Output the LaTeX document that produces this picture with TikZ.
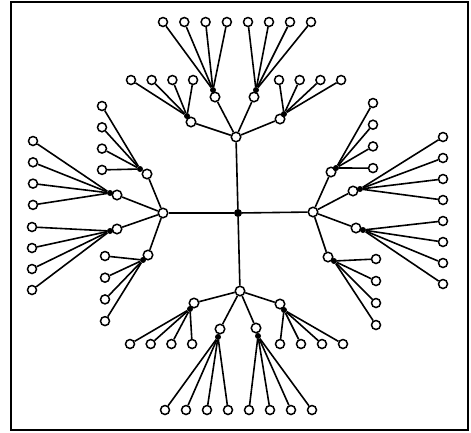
\documentclass[tikz,border=0pt]{standalone}
\usepackage{tikz}
\usetikzlibrary{positioning,calc}
\tikzset{
  leafnode/.style={circle, draw=black, fill=white, line width=1.5pt, inner sep=0pt, minimum size=9pt},
  hubnode/.style={leafnode, minimum size=9.5pt},
  joint/.style={circle, fill=black, inner sep=0pt, minimum size=6pt},
  branch/.style={line width=1.6pt},
}
\begin{document}
\begin{tikzpicture}[x=1pt, y=-1pt]
    \useasboundingbox (0,0) rectangle (471,432);
    \draw[line width=2.2pt] (11,2) rectangle (468,430);

    % centre and the four hubs
    \node[joint, minimum size=8pt] (c) at (238,213) {};
    \node[hubnode] (top) at (236,137) {};
    \node[hubnode] (left) at (163,213) {};
    \node[hubnode] (right) at (313,212) {};
    \node[hubnode] (bottom) at (240,291) {};
    \draw[branch] (c) -- (top);
    \draw[branch] (c) -- (left);
    \draw[branch] (c) -- (right);
    \draw[branch] (c) -- (bottom);

    % sub-hubs, their joints and four leaves each
    \foreach \sub/\hub/\sx/\sy/\jx/\jy/\lx/\ly/\dx/\dy in {
        T1/top/191/122/187/116/131/80/20.7/0,
        T2/top/215/97/213/90/163/22/21.3/0,
        T3/top/254/97/256/90/248/22/21/0,
        T4/top/280/119/284/114/279/80/20.7/0,
        L1/left/147/174/140/169/102/106/0/21.3,
        L2/left/117/195/110/193/33/141/0/21.3,
        L3/left/117/229/110/231/32/227/0/21,
        L4/left/148/255/143/260/105/256/0/21.7,
        R1/right/331/172/336/168/373/103/0/21.7,
        R2/right/353/191/360/189/443/137/0/21,
        R3/right/356/228/363/230/443/221/0/21,
        R4/right/328/257/334/261/376/259/0/22,
        B1/bottom/194/303/190/309/130/344/20.7/0,
        B2/bottom/220/329/218/337/165/410/21/0,
        B3/bottom/256/328/258/336/249/410/21/0,
        B4/bottom/280/304/284/310/280/344/21/0}{
        \node[hubnode] (\sub) at (\sx,\sy) {};
        \node[joint] (\sub-j) at (\jx,\jy) {};
        \draw[branch] (\hub) -- (\sub);
        \draw[branch] (\sub) -- (\sub-j);
        \foreach \k in {0,...,3}{
            \node[leafnode] (\sub-\k) at ({\lx+\k*\dx},{\ly+\k*\dy}) {};
            \draw[branch] (\sub-j) -- (\sub-\k);
        }
    }
\end{tikzpicture}
\end{document}
